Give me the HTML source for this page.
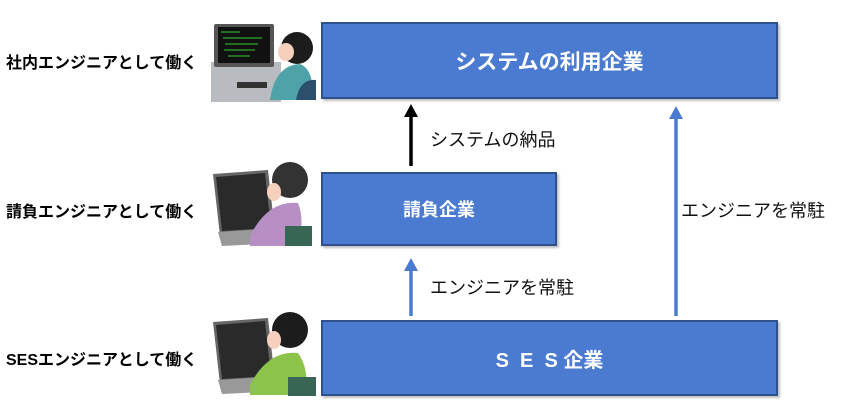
<!DOCTYPE html>
<html><head><meta charset="utf-8"><style>
body{margin:0;width:841px;height:417px;background:#fff;position:relative;overflow:hidden;font-family:"Liberation Sans","Noto Sans CJK JP",sans-serif}
.box{position:absolute;background:#4a7bd0;border:2px solid #2f528f;box-sizing:border-box;color:#fff;font-weight:bold;display:flex;align-items:center;justify-content:center;box-shadow:2px 2px 2px rgba(0,0,0,.25)}
.lbl{position:absolute;font-weight:bold;font-size:16px;color:#000}
.t{position:absolute;font-size:18px;color:#111}
svg{position:absolute;left:0;top:0}
</style></head><body>
<div class="lbl" style="left:6px;top:49px">社内エンジニアとして働く</div>
<div class="lbl" style="left:6px;top:198px">請負エンジニアとして働く</div>
<div class="lbl" style="left:6px;top:346px">SESエンジニアとして働く</div>
<div class="box" style="left:321px;top:22px;width:457px;height:77px;font-size:21px">システムの利用企業</div>
<div class="box" style="left:321px;top:172px;width:236px;height:74px;font-size:18px">請負企業</div>
<div class="box" style="left:321px;top:320px;width:457px;height:76px;font-size:20px;white-space:pre">S  E  S 企業</div>
<div class="t" style="left:430px;top:126px">システムの納品</div>
<div class="t" style="left:430px;top:274px">エンジニアを常駐</div>
<div class="t" style="left:681px;top:197px">エンジニアを常駐</div>
<svg width="841" height="417">
<line x1="411" y1="166" x2="411" y2="116" stroke="#000" stroke-width="3.5"/>
<polygon points="404,117 418,117 411,104" fill="#000"/>
<line x1="411" y1="316" x2="411" y2="270" stroke="#4a7bd0" stroke-width="3.5"/>
<polygon points="404,271 418,271 411,258" fill="#4a7bd0"/>
<line x1="676" y1="316" x2="676" y2="118" stroke="#4a7bd0" stroke-width="3.5"/>
<polygon points="669,119 683,119 676,106" fill="#4a7bd0"/>
<rect x="211" y="62" width="70" height="40" fill="#b8bcc0"/>
<rect x="214" y="24" width="60" height="43" rx="2" fill="#555"/>
<rect x="218" y="27" width="52" height="36" fill="#111"/>
<g stroke="#3c3" stroke-width="1"><line x1="221" y1="32" x2="240" y2="32"/><line x1="223" y1="38" x2="262" y2="38"/><line x1="225" y1="44" x2="258" y2="44"/><line x1="224" y1="50" x2="255" y2="50"/><line x1="228" y1="56" x2="250" y2="56"/></g>
<rect x="237" y="82" width="30" height="6" fill="#333"/>
<circle cx="297" cy="48" r="16" fill="#1c1c1c"/>
<ellipse cx="286" cy="52" rx="8" ry="9" fill="#f6d0bd"/>
<path d="M270 100 Q275 65 300 64 Q315 70 312 100Z" fill="#4fa3a8"/>
<path d="M296 100 Q300 78 316 80 L316 100Z" fill="#2c4f6b"/>
<path d="M213 174 L268 170 L275 232 L220 236Z" fill="#666"/>
<path d="M216 177 L265 173 L271 228 L222 231Z" fill="#2a2a2a"/>
<path d="M218 232 L280 228 L285 243 L222 246Z" fill="#999"/>
<circle cx="290" cy="180" r="18" fill="#333"/>
<ellipse cx="274" cy="192" rx="7" ry="9" fill="#f6d0bd"/>
<path d="M250 236 Q268 200 298 203 Q305 220 298 246 L250 246Z" fill="#b88fc4"/>
<rect x="285" y="226" width="27" height="20" fill="#386654"/>
<path d="M213 322 L268 318 L275 380 L220 384Z" fill="#666"/>
<path d="M216 325 L265 321 L271 376 L222 379Z" fill="#2a2a2a"/>
<path d="M218 380 L280 376 L285 391 L222 394Z" fill="#999"/>
<circle cx="290" cy="330" r="18" fill="#1c1c1c"/>
<ellipse cx="274" cy="340" rx="7" ry="9" fill="#f6d0bd"/>
<path d="M250 385 Q268 350 298 353 Q310 370 305 395 L250 395Z" fill="#8cc34a"/>
<rect x="288" y="377" width="28" height="19" fill="#386654"/>
</svg>
</body></html>
